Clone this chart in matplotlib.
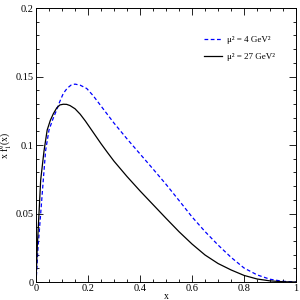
import matplotlib

matplotlib.use("Agg")
import matplotlib.pyplot as plt
from matplotlib.ticker import MultipleLocator

plt.rcParams["font.family"] = ["Liberation Serif", "DejaVu Serif"]
plt.rcParams["mathtext.fontset"] = "stix"

# x f_1^q(x), two scales
x_4 = [0, 0.003, 0.008, 0.018, 0.028, 0.037, 0.05, 0.065, 0.079, 0.092, 0.105,
       0.12, 0.135, 0.15, 0.17, 0.195, 0.22, 0.25, 0.3, 0.35, 0.4, 0.45, 0.5,
       0.55, 0.6, 0.65, 0.7, 0.75, 0.8, 0.85, 0.9, 0.95, 1.0]
f_4 = [0, 0.0088, 0.0258, 0.05, 0.0745, 0.096, 0.111, 0.119, 0.1255, 0.132,
       0.1377, 0.1415, 0.1438, 0.1445, 0.1437, 0.1413, 0.136, 0.1285, 0.116,
       0.1045, 0.0935, 0.0825, 0.0713, 0.0595, 0.0475, 0.0368, 0.027, 0.018,
       0.0102, 0.0052, 0.002, 0.0005, 0]

x_27 = [0, 0.005, 0.0115, 0.018, 0.031, 0.043, 0.055, 0.067, 0.08, 0.092,
        0.105, 0.118, 0.131, 0.15, 0.17, 0.19, 0.21, 0.23, 0.25, 0.275, 0.3,
        0.35, 0.4, 0.45, 0.5, 0.55, 0.6, 0.65, 0.7, 0.75, 0.8, 0.85, 0.9, 0.95,
        1.0]
f_27 = [0, 0.026, 0.05, 0.0745, 0.096, 0.111, 0.118, 0.123, 0.1272, 0.1293,
        0.1298, 0.1297, 0.1288, 0.1265, 0.1225, 0.1175, 0.112, 0.1065, 0.101,
        0.0945, 0.0882, 0.077, 0.0665, 0.0565, 0.0465, 0.0367, 0.0277, 0.0197,
        0.0135, 0.0088, 0.0048, 0.0022, 0.0008, 0.0002, 0]

labels = ["μ² = 4 GeV²", "μ² = 27 GeV²"]
xticks = [0, 0.2, 0.4, 0.6, 0.8, 1.0]
xtick_labels = ["0", "0.2", "0.4", "0.6", "0.8", "1"]
yticks = [0, 0.05, 0.1, 0.15, 0.2]
ytick_labels = ["0", "0.05", "0.1", "0.15", "0.2"]

fig = plt.figure(figsize=(3, 3), dpi=100)
ax = fig.add_axes([0.12, 0.06, 0.867, 0.913])

ax.plot(x_4, f_4, "--", color="blue", lw=0.9, dashes=(3, 2), label=labels[0])
ax.plot(x_27, f_27, "-", color="black", lw=0.9, label=labels[1])

ax.set_xlim(0, 1)
ax.set_ylim(0, 0.2)
ax.set_xticks(xticks, xtick_labels)
ax.set_yticks(yticks, ytick_labels)
ax.xaxis.set_minor_locator(MultipleLocator(0.05))
ax.yaxis.set_minor_locator(MultipleLocator(0.01))
ax.tick_params(which="both", direction="in", top=True, right=True, labelsize=7.5, pad=1.5, width=0.6)
ax.tick_params(which="major", length=5)
ax.tick_params(which="minor", length=2.5)
for spine in ax.spines.values():
    spine.set_linewidth(0.7)

ax.set_xlabel("x", fontsize=7, labelpad=-1)
ax.set_ylabel(r"x f$_1^q$(x)", fontsize=7, labelpad=1)

ax.legend(loc="upper right", bbox_to_anchor=(0.95, 0.93), frameon=False, fontsize=6.5,
          handlelength=2.0, handletextpad=0.6, labelspacing=1.0)

fig.savefig("out.png", dpi=100)
